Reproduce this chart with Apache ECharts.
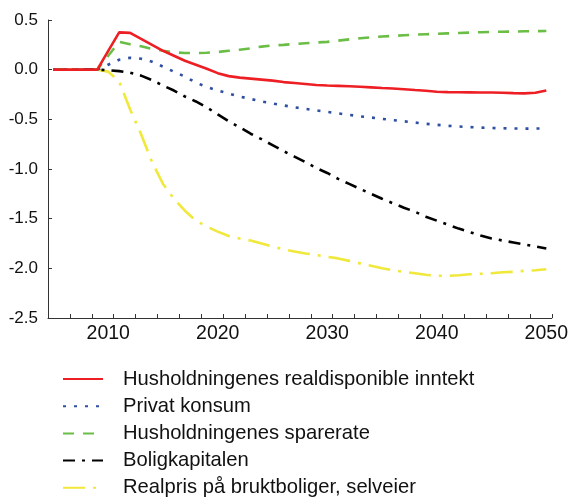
<!DOCTYPE html>
<html>
<head>
<meta charset="utf-8">
<script src="https://cdn.jsdelivr.net/npm/echarts@6/dist/echarts.min.js"></script>
<style>html,body{margin:0;padding:0;background:#fff}#c{width:571px;height:497px}</style>
</head>
<body>
<div id="c"></div>
<script>
const years = [];
for (let y = 2005; y <= 2050; y++) years.push(String(y));

const yTicks = [-2.5, -2.0, -1.5, -1.0, -0.5, 0.0, 0.5];
const seriesNames = [
  'Husholdningenes realdisponible inntekt',
  'Privat konsum',
  'Husholdningenes sparerate',
  'Boligkapitalen',
  'Realpris på bruktboliger, selveier'
];

const realinntekt = [0,0,0,0,0,0.19,0.375,0.37,0.31,0.25,0.19,0.14,0.09,0.05,0.01,-0.035,
  -0.065,-0.08,-0.09,-0.10,-0.11,-0.125,-0.135,-0.145,-0.155,-0.16,-0.163,-0.167,-0.172,-0.178,
  -0.185,-0.19,-0.197,-0.205,-0.212,-0.222,-0.226,-0.228,-0.229,-0.23,-0.23,-0.232,-0.236,-0.239,-0.232,-0.21];

const konsum = [0,0,0,0,0,0.05,0.10,0.12,0.11,0.08,0.03,-0.02,-0.07,-0.13,-0.175,-0.21,
  -0.24,-0.27,-0.295,-0.32,-0.34,-0.36,-0.378,-0.395,-0.41,-0.425,-0.44,-0.455,-0.47,-0.482,
  -0.495,-0.508,-0.52,-0.532,-0.545,-0.555,-0.565,-0.572,-0.578,-0.583,-0.587,-0.59,-0.592,-0.594,-0.593,-0.59];

const sparerate = [0,0,0,0,0,0.14,0.28,0.255,0.235,0.21,0.19,0.175,0.168,0.167,0.17,0.178,
  0.19,0.2,0.215,0.232,0.243,0.25,0.258,0.266,0.273,0.28,0.292,0.305,0.316,0.326,
  0.334,0.34,0.346,0.352,0.357,0.361,0.365,0.369,0.373,0.377,0.38,0.382,0.384,0.386,0.388,0.39];

const boligkapital = [0,0,0,0,0,-0.005,-0.015,-0.03,-0.06,-0.105,-0.16,-0.21,-0.27,-0.32,-0.38,-0.45,
  -0.52,-0.58,-0.645,-0.70,-0.76,-0.82,-0.875,-0.93,-0.99,-1.04,-1.10,-1.15,-1.20,-1.25,
  -1.30,-1.345,-1.39,-1.43,-1.48,-1.52,-1.56,-1.60,-1.635,-1.67,-1.70,-1.72,-1.74,-1.76,-1.78,-1.80];

const boligpris = [0,0,0,0,0,-0.02,-0.12,-0.40,-0.65,-0.93,-1.15,-1.30,-1.42,-1.52,-1.58,-1.63,
  -1.675,-1.70,-1.72,-1.75,-1.78,-1.81,-1.83,-1.85,-1.865,-1.885,-1.90,-1.925,-1.95,-1.975,
  -2.0,-2.02,-2.035,-2.05,-2.065,-2.075,-2.075,-2.07,-2.06,-2.055,-2.05,-2.04,-2.035,-2.025,-2.02,-2.01];

const font = '"Liberation Sans", Arial, sans-serif';
const axisColor = '#333';

const styles = [
  {color: '#ee1f24', type: 'solid'},
  {color: '#2f4fa2', type: [3, 8]},
  {color: '#6abd45', type: [11, 9]},
  {color: '#000000', type: [12, 7, 3, 7]},
  {color: '#f0e83a', type: [22, 8, 3, 8]}
];
const dataSets = [realinntekt, konsum, sparerate, boligkapital, boligpris];

const chart = echarts.init(document.getElementById('c'), null, {renderer: 'canvas'});
chart.setOption({
  animation: false,
  backgroundColor: '#fff',
  grid: {left: 48, right: 19, top: 20, bottom: 179, containLabel: false},
  legend: {
    show: true,
    type: 'plain',
    orient: 'vertical',
    left: 62,
    top: 369,
    height: 160,
    padding: 0,
    itemWidth: 40,
    itemHeight: 14,
    itemGap: 7.2,
    itemStyle: {opacity: 0},
    textStyle: {fontFamily: font, fontSize: 20.2, color: '#111', padding: [0, 0, 0, 15]},
    data: seriesNames
  },
  xAxis: {
    type: 'category',
    data: years,
    boundaryGap: true,
    axisLine: {onZero: false, lineStyle: {color: axisColor, width: 1}},
    axisTick: {show: true, inside: true, length: 4, interval: 1, lineStyle: {color: axisColor}},
    axisLabel: {
      interval: (i, v) => Number(v) % 10 === 0,
      fontFamily: font, fontSize: 19.5, color: '#111', margin: 6
    },
    splitLine: {show: false}
  },
  yAxis: {
    type: 'value',
    min: yTicks[0],
    max: yTicks[yTicks.length - 1],
    interval: 0.5,
    axisLine: {show: true, lineStyle: {color: axisColor, width: 1}},
    axisTick: {show: true, inside: true, length: 4, lineStyle: {color: axisColor}},
    axisLabel: {
      formatter: v => v.toFixed(1),
      fontFamily: font, fontSize: 17, color: '#111', margin: 10
    },
    splitLine: {show: false}
  },
  series: seriesNames.map((n, i) => ({
    name: n,
    type: 'line',
    data: dataSets[i],
    symbol: 'none',
    smooth: false,
    z: 10 - i,
    lineStyle: {color: styles[i].color, width: 2.6, type: styles[i].type},
    itemStyle: {color: styles[i].color}
  }))
});
</script>
</body>
</html>
